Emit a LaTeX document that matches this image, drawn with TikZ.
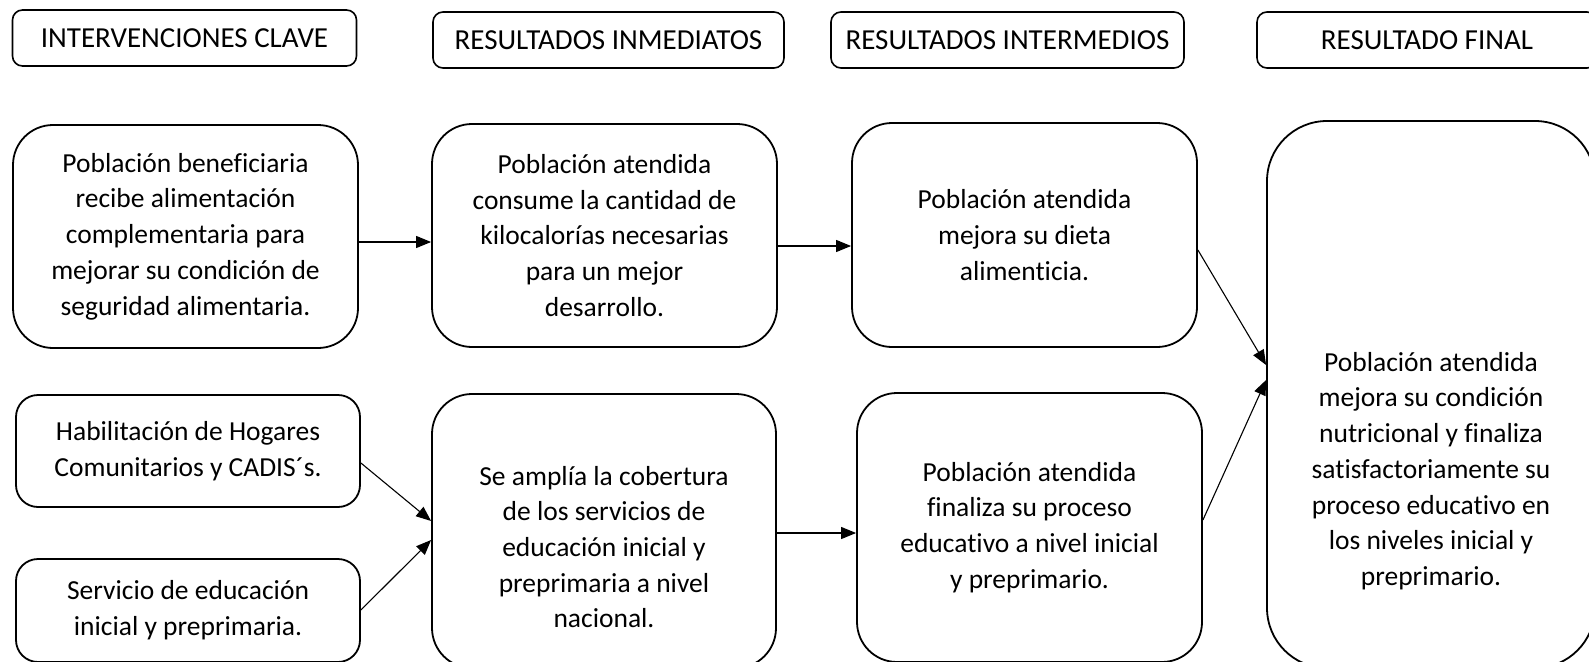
\documentclass[tikz,border=0pt]{standalone}
\usepackage{fontspec}
\setmainfont{Carlito}[Ligatures=NoCommon]
\usetikzlibrary{calc,arrows.meta}

\begin{document}
\begin{tikzpicture}[x=1pt,y=-1pt]
        %%init
        \useasboundingbox (0,0) rectangle (1589,661);
        \clip (0,0) rectangle (1589,661);

        %%estilos de cajas y flechas
        \tikzset{titlebox/.style = {draw, line width=1.6pt, rounded corners=10pt, inner sep=0, minimum height=56pt, font=\fontsize{29pt}{35pt}\selectfont}}
        \tikzset{stepbox/.style = {draw, line width=1.8pt, rounded corners=40pt, inner sep=0, align=center, font=\fontsize{27.5pt}{35.7pt}\selectfont}}
        \tikzset{smallbox/.style = {stepbox, rounded corners=22pt}}
        \tikzset{boxtext/.style = {inner sep=0, align=center, font=\fontsize{27.5pt}{35.7pt}\selectfont}}
        \tikzset{link/.style = {line width=1.1pt, -{Triangle[length=15pt,width=12pt]}}}

        %%titulos
        \node[titlebox, minimum width=344pt] (t1) at (184.5,38) {INTERVENCIONES CLAVE};
        \node[titlebox, minimum width=351pt] (t2) at (608.5,40) {RESULTADOS INMEDIATOS};
        \node[titlebox, minimum width=353pt] (t3) at (1007.5,40) {RESULTADOS INTERMEDIOS};
        \node[titlebox, minimum width=340pt] (t4) at (1427,40) {RESULTADO FINAL};

        %%intervenciones
        \node[stepbox, minimum width=345pt, minimum height=223pt] (a1) at (185.5,236.5)
        {Población beneficiaria\\recibe alimentación\\complementaria para\\mejorar su condición de\\seguridad alimentaria.};
        \node[smallbox, minimum width=344pt, minimum height=112pt] (a2) at (188,451)
        {Habilitación de Hogares\\Comunitarios y CADIS´s.};
        \node[smallbox, minimum width=344pt, minimum height=103pt] (a3) at (188,610.5)
        {Servicio de educación\\inicial y preprimaria.};

        %%resultados inmediatos
        \node[stepbox, minimum width=345pt, minimum height=223pt] (b1) at (604.5,235.5)
        {Población atendida\\consume la cantidad de\\kilocalorías necesarias\\para un mejor\\desarrollo.};
        \node[stepbox, minimum width=344pt, minimum height=274pt] (b2) at (604,531) {};
        \node[boxtext] (b2t) at (604,547)
        {Se amplía la cobertura\\de los servicios de\\educación inicial y\\preprimaria a nivel\\nacional.};

        %%resultados intermedios
        \node[stepbox, minimum width=345pt, minimum height=224pt] (c1) at (1024.5,235)
        {Población atendida\\mejora su dieta\\alimenticia.};
        \node[stepbox, minimum width=345pt, minimum height=269pt] (c2) at (1029.5,527.5)
        {Población atendida\\finaliza su proceso\\educativo a nivel inicial\\y preprimario.};

        %%resultado final
        \node[stepbox, rounded corners=60pt, minimum width=328pt, minimum height=547pt] (d1) at (1431,394.5) {};
        \node[boxtext] (d1t) at (1431,471)
        {Población atendida\\mejora su condición\\nutricional y finaliza\\satisfactoriamente su\\proceso educativo en\\los niveles inicial y\\preprimario.};

        %%flechas
        \draw[link] ($(a1.east)+(0,5.5)$) -- ($(b1.west)+(0,6.5)$);
        \draw[link] ($(a2.east)+(0,12)$) -- ($(b2.west)+(0,-10)$);
        \draw[link] ($(a3.east)+(0,-0.5)$) -- ($(b2.west)+(0,9)$);
        \draw[link] ($(b1.east)+(0,10.5)$) -- ($(c1.west)+(0,11)$);
        \draw[link] ($(b2.east)+(0,2)$) -- ($(c2.west)+(0,5.5)$);
        \draw[link] ($(c1.east)+(0,15)$) -- ($(d1.west)+(0,-29.5)$);
        \draw[link] ($(c2.east)+(0,-7.5)$) -- ($(d1.west)+(0,-14.5)$);

    \end{tikzpicture}
\end{document}
